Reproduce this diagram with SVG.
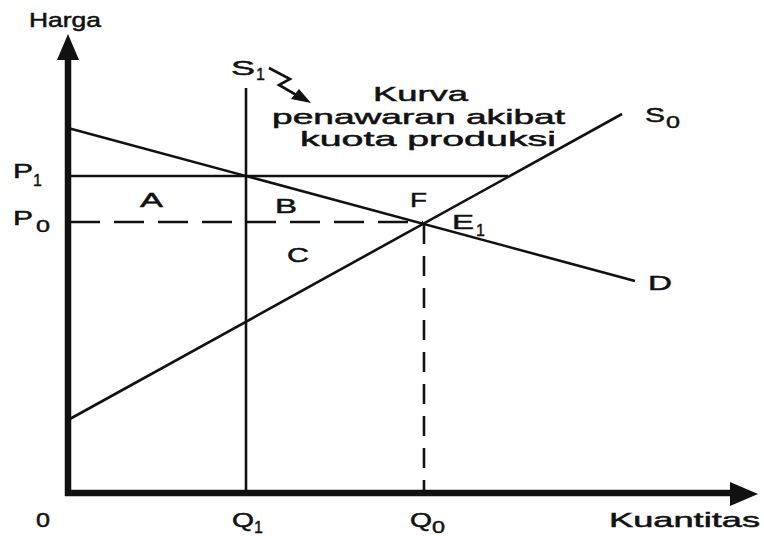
<svg xmlns="http://www.w3.org/2000/svg" width="764" height="536" viewBox="0 0 764 536">
<defs>
<style>
.t{font-family:"Liberation Sans",Arial,sans-serif;font-size:21px;fill:#111;stroke:#111;stroke-width:0.5}
.s{font-family:"Liberation Sans",Arial,sans-serif;font-size:16px;fill:#111;stroke:#111;stroke-width:0.4}
.ln{stroke:#111;stroke-width:2.6;fill:none}
.ax{stroke:#111;stroke-width:6.5;fill:none}
</style>
</defs>
<rect width="764" height="536" fill="#fff"/>
<g id="axes">
<line class="ax" x1="68" y1="50" x2="68" y2="496"/>
<polygon points="68,34 57,60 79,60" fill="#111"/>
<line class="ax" x1="65" y1="493" x2="735" y2="493"/>
<polygon points="758,494 730,482 730,506" fill="#111"/>
<text class="t" x="29" y="27" textLength="72" lengthAdjust="spacingAndGlyphs">Harga</text>
<text class="t" x="609" y="527" textLength="151" lengthAdjust="spacingAndGlyphs">Kuantitas</text>
<text class="t" x="36" y="527" textLength="14" lengthAdjust="spacingAndGlyphs">0</text>
</g>
<g id="connectors">
<line class="ln" x1="246" y1="88" x2="246" y2="493"/>
<line class="ln" x1="68" y1="176" x2="508" y2="176"/>
<line class="ln" x1="68" y1="128" x2="635" y2="281"/>
<line class="ln" x1="68" y1="420" x2="622" y2="114"/>
<line class="ln" x1="70" y1="222" x2="423" y2="222" stroke-dasharray="30,14"/>
<line class="ln" x1="424" y1="224" x2="424" y2="493" stroke-dasharray="20,12"/>
<polyline class="ln" points="269,68 290,79 279,85 298,96" stroke-width="2"/>
<polygon points="311,103 291,99 299,89" fill="#111"/>
</g>
<g id="labels">
<text class="t" x="231" y="75" textLength="24" lengthAdjust="spacingAndGlyphs">S</text>
<text class="s" x="256" y="80">1</text>
<text class="t" x="13" y="178" textLength="20" lengthAdjust="spacingAndGlyphs">P</text>
<text class="s" x="33" y="186">1</text>
<text class="t" x="13" y="225" textLength="20" lengthAdjust="spacingAndGlyphs">P</text>
<text class="s" x="36" y="232" textLength="14" lengthAdjust="spacingAndGlyphs">0</text>
<text class="t" x="232" y="527" textLength="22" lengthAdjust="spacingAndGlyphs">Q</text>
<text class="s" x="254" y="533">1</text>
<text class="t" x="410" y="527" textLength="22" lengthAdjust="spacingAndGlyphs">Q</text>
<text class="s" x="432" y="533" textLength="13" lengthAdjust="spacingAndGlyphs">0</text>
<text class="t" x="140" y="207" textLength="23" lengthAdjust="spacingAndGlyphs">A</text>
<text class="t" x="275" y="213" textLength="22" lengthAdjust="spacingAndGlyphs">B</text>
<text class="t" x="287" y="262" textLength="22" lengthAdjust="spacingAndGlyphs">C</text>
<text class="t" x="410" y="207" textLength="17" lengthAdjust="spacingAndGlyphs">F</text>
<text class="t" x="452" y="229" textLength="22" lengthAdjust="spacingAndGlyphs">E</text>
<text class="s" x="476" y="236">1</text>
<text class="t" x="648" y="290" textLength="24" lengthAdjust="spacingAndGlyphs">D</text>
<text class="t" x="645" y="122" textLength="20" lengthAdjust="spacingAndGlyphs">S</text>
<text class="s" x="666" y="128" textLength="14" lengthAdjust="spacingAndGlyphs">0</text>
<text class="t" x="373" y="101" textLength="95" lengthAdjust="spacingAndGlyphs">Kurva</text>
<text class="t" x="272" y="124" textLength="293" lengthAdjust="spacingAndGlyphs">penawaran akibat</text>
<text class="t" x="300" y="146" textLength="256" lengthAdjust="spacingAndGlyphs">kuota produksi</text>
</g>
</svg>
